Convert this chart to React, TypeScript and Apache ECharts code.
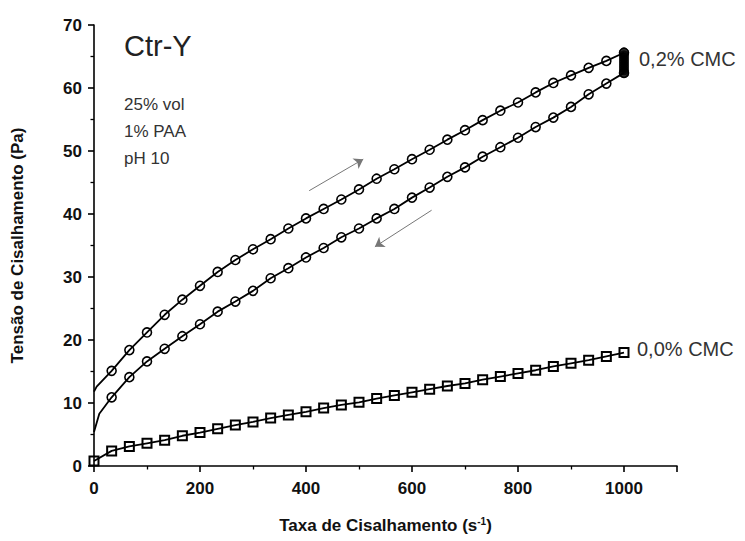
import React, { useEffect, useRef } from "react";
import * as echarts from "echarts";

// Shear rate (s^-1) for the measured points
const shearRate = [
  33.3, 66.7, 100, 133.3, 166.7, 200, 233.3, 266.7, 300, 333.3,
  366.7, 400, 433.3, 466.7, 500, 533.3, 566.7, 600, 633.3, 666.7,
  700, 733.3, 766.7, 800, 833.3, 866.7, 900, 933.3, 966.7, 1000,
];

// 0,2% CMC, ramp up (Pa)
const stressUp = [
  15.1, 18.4, 21.2, 24.0, 26.4, 28.6, 30.8, 32.7, 34.4, 36.0,
  37.7, 39.3, 40.8, 42.3, 43.9, 45.6, 47.1, 48.7, 50.2, 51.8,
  53.3, 54.9, 56.4, 57.7, 59.3, 60.8, 62.0, 63.2, 64.3, 65.6,
];
// 0,2% CMC, ramp down (Pa)
const stressDown = [
  10.9, 14.1, 16.6, 18.6, 20.6, 22.5, 24.5, 26.1, 27.8, 29.8,
  31.4, 33.1, 34.6, 36.3, 37.7, 39.3, 40.8, 42.6, 44.2, 45.9,
  47.4, 49.1, 50.6, 52.1, 53.8, 55.3, 57.0, 59.0, 60.7, 62.4,
];
// fitted-curve start values at low shear rate (line only)
const upStartRate = [0, 5];
const upStartStress = [11.8, 12.6];
const downStartRate = [0, 10];
const downStartStress = [5.4, 8.3];

// hold at 1000 s^-1 (0,2% CMC)
const holdRate = 1000;
const holdStress = [65.6, 65.2, 64.8, 64.4, 64.0, 63.6, 63.2, 62.8, 62.4];

// 0,0% CMC (Pa)
const waterRate = [0, ...shearRate];
const stressWater = [
  0.8, 2.4, 3.1, 3.6, 4.1, 4.8, 5.3, 5.9, 6.5, 7.0, 7.6,
  8.1, 8.6, 9.2, 9.7, 10.1, 10.7, 11.2, 11.7, 12.2, 12.7,
  13.1, 13.7, 14.2, 14.7, 15.2, 15.8, 16.3, 16.8, 17.4, 18.0,
];

const xTicks = { min: 0, max: 1100, interval: 200 };
const yTicks = { min: 0, max: 70, interval: 10 };

const FONT = "'Liberation Sans', Arial, Helvetica, sans-serif";

function withStart(rates: number[], vals: number[], sr: number[], sv: number[]) {
  const start = sr.map((r, i) => ({ value: [r, sv[i]], symbol: "none" }));
  const pts = rates.map((r, i) => ({ value: [r, vals[i]] }));
  return [...start, ...pts];
}

export default function App() {
  const ref = useRef<HTMLDivElement>(null);
  useEffect(() => {
    document.body.style.margin = "0";
    if (!ref.current) return;
    const chart = echarts.init(ref.current, null, { renderer: "svg" });
    const hollow = { color: "rgba(0,0,0,0)", borderColor: "#000", borderWidth: 1.6 };
    const option: any = {
      animation: false,
      backgroundColor: "#fff",
      grid: { left: 94, right: 68, top: 25, bottom: 75, containLabel: false },
      xAxis: {
        type: "value",
        ...xTicks,
        splitLine: { show: false },
        axisLine: { lineStyle: { color: "#000", width: 1.6 } },
        axisTick: { inside: false, length: 6, lineStyle: { color: "#000", width: 1.6 } },
        minorTick: { show: true, splitNumber: 2, length: 3.5, lineStyle: { color: "#000", width: 1.3 } },
        axisLabel: {
          showMaxLabel: false,
          formatter: (v: number) => String(v),
          fontSize: 17,
          fontWeight: "bold",
          color: "#111",
          margin: 14,
          fontFamily: FONT,
        },
        name: "Taxa de Cisalhamento (s{sup|-1})",
        nameLocation: "middle",
        nameGap: 50,
        nameTextStyle: {
          fontSize: 17,
          fontWeight: "bold",
          color: "#111",
          fontFamily: FONT,
          rich: { sup: { fontSize: 10, fontWeight: "bold", verticalAlign: "top", padding: [0, 0, 8, 0], fontFamily: FONT, color: "#111" } },
        },
      },
      yAxis: {
        type: "value",
        ...yTicks,
        splitLine: { show: false },
        axisLine: { show: true, lineStyle: { color: "#000", width: 1.6 } },
        axisTick: { show: true, inside: false, length: 6, lineStyle: { color: "#000", width: 1.6 } },
        minorTick: { show: true, splitNumber: 2, length: 3.5, lineStyle: { color: "#000", width: 1.3 } },
        axisLabel: { fontSize: 17, fontWeight: "bold", color: "#111", margin: 12, fontFamily: FONT },
        name: "Tensão de Cisalhamento (Pa)",
        nameLocation: "middle",
        nameGap: 68,
        nameTextStyle: { fontSize: 17, fontWeight: "bold", color: "#111", fontFamily: FONT },
      },
      series: [
        {
          name: "0,0% CMC",
          type: "line",
          data: waterRate.map((r, i) => [r, stressWater[i]]),
          symbol: "rect",
          symbolSize: 9,
          showAllSymbol: true,
          lineStyle: { color: "#000", width: 1.8 },
          itemStyle: { color: "rgba(0,0,0,0)", borderColor: "#000", borderWidth: 2 },
          z: 3,
          markLine: {
            silent: true,
            symbol: ["none", "arrow"],
            symbolSize: 9,
            label: { show: false },
            itemStyle: { color: "#333" },
            lineStyle: { color: "#777", width: 1, type: "solid" },
            emphasis: { disabled: true },
            data: [
              [{ coord: [406, 43.7] }, { coord: [508, 48.7] }],
              [{ coord: [637, 40.6] }, { coord: [530, 34.8] }],
            ],
          },
        },
        {
          name: "0,2% CMC up",
          type: "line",
          data: withStart(shearRate, stressUp, upStartRate, upStartStress),
          symbol: "circle",
          symbolSize: 9,
          showAllSymbol: true,
          lineStyle: { color: "#000", width: 1.8 },
          itemStyle: hollow,
          z: 3,
        },
        {
          name: "0,2% CMC down",
          type: "line",
          data: withStart(shearRate, stressDown, downStartRate, downStartStress),
          symbol: "circle",
          symbolSize: 9,
          showAllSymbol: true,
          lineStyle: { color: "#000", width: 1.8 },
          itemStyle: hollow,
          z: 3,
        },
        {
          name: "hold",
          type: "scatter",
          data: holdStress.map((v) => [holdRate, v]),
          symbol: "circle",
          symbolSize: 10,
          itemStyle: { color: "#000" },
          z: 4,
        },
      ],
      graphic: [
        { type: "text", left: 124, top: 31, style: { text: "Ctr-Y", fontSize: 29, fontFamily: FONT, fill: "#222" } },
        { type: "text", left: 124, top: 96, style: { text: "25% vol", fontSize: 17, fontFamily: FONT, fill: "#333" } },
        { type: "text", left: 124, top: 123, style: { text: "1% PAA", fontSize: 17, fontFamily: FONT, fill: "#333" } },
        { type: "text", left: 124, top: 150, style: { text: "pH 10", fontSize: 17, fontFamily: FONT, fill: "#333" } },
        { type: "text", left: 639, top: 49, style: { text: "0,2% CMC", fontSize: 20, fontFamily: FONT, fill: "#333" } },
        { type: "text", left: 637, top: 339, style: { text: "0,0% CMC", fontSize: 20, fontFamily: FONT, fill: "#333" } },
      ],
    };
    chart.setOption(option);
    return () => chart.dispose();
  }, []);
  return <div ref={ref} style={{ position: "fixed", left: 0, top: 0, width: 745, height: 541 }} />;
}
